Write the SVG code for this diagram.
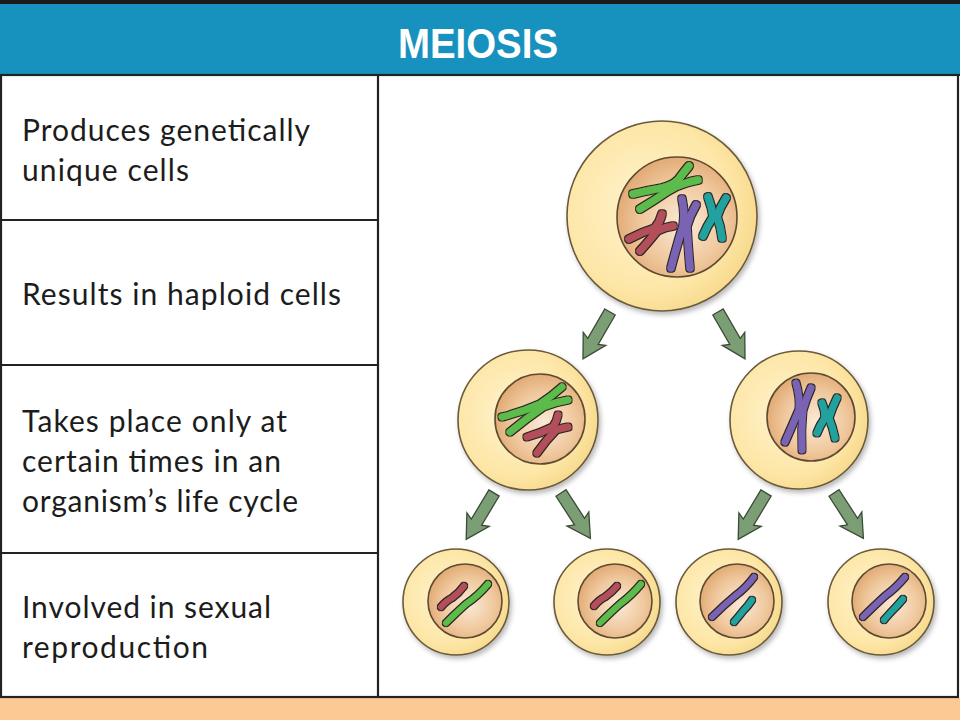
<svg xmlns="http://www.w3.org/2000/svg" width="960" height="720" viewBox="0 0 960 720">
<defs>
<radialGradient id="cyto" cx="0.42" cy="0.45" r="0.6">
<stop offset="0" stop-color="#fff4cf"/>
<stop offset="0.75" stop-color="#fde6a6"/>
<stop offset="1" stop-color="#f7d98c"/>
</radialGradient>
<radialGradient id="nuc" cx="0.55" cy="0.55" r="0.6">
<stop offset="0" stop-color="#fbead6"/>
<stop offset="0.6" stop-color="#efc79c"/>
<stop offset="1" stop-color="#dfa56d"/>
</radialGradient>
<filter id="shadow" x="-20%" y="-20%" width="140%" height="140%">
<feDropShadow dx="2" dy="3" stdDeviation="2.5" flood-color="#000" flood-opacity="0.28"/>
</filter>
<filter id="outline" x="-20%" y="-20%" width="140%" height="140%">
<feMorphology in="SourceAlpha" operator="dilate" radius="1.3" result="d"/>
<feFlood flood-color="#2b2622"/>
<feComposite in2="d" operator="in" result="o"/>
<feMerge><feMergeNode in="o"/><feMergeNode in="SourceGraphic"/></feMerge>
</filter>
<polygon id="arrow" points="-6,0 6,0 6,34 13,31 0,54 -13,31 -6,34"/>
</defs>
<style>
.cell{fill:url(#cyto);stroke:#6a5a3c;stroke-width:1.6}
.nucleus{fill:url(#nuc);stroke:#5e4a32;stroke-width:1.6}
.chr{fill:none;stroke-linecap:round;stroke-linejoin:round}
.g{stroke:#5dbb4c}.r{stroke:#b24f5a}.p{stroke:#7a63b2}.t{stroke:#23a29e}
.arrow{fill:#7c9e74;stroke:#3c4a38;stroke-width:1.3}
.lbl{font-family:Lato,"Open Sans","Liberation Sans",sans-serif;font-size:30px;fill:#1c1c1c}
.grid{stroke:#222;stroke-width:2.2;fill:none}
</style>

<rect x="0" y="0" width="960" height="720" fill="#ffffff"/>
<rect x="0" y="0" width="960" height="4" fill="#1b1b1b"/>
<g id="header">
<rect x="0" y="4" width="960" height="71" fill="#1791bd"/>
<text x="478" y="58" text-anchor="middle" font-family="'Liberation Sans',Arial,sans-serif" font-weight="bold" font-size="42" fill="#ffffff" textLength="160" lengthAdjust="spacingAndGlyphs">MEIOSIS</text>
</g>
<rect x="0" y="698" width="960" height="22" fill="#fcc995"/>

<g id="table">
<line class="grid" x1="0" y1="75" x2="960" y2="75"/>
<rect class="grid" x="1" y="75" width="957" height="622"/>
<line class="grid" x1="378" y1="75" x2="378" y2="697"/>
<line class="grid" x1="1" y1="220" x2="378" y2="220"/>
<line class="grid" x1="1" y1="365" x2="378" y2="365"/>
<line class="grid" x1="1" y1="553" x2="378" y2="553"/>
</g>

<g id="row1"><text class="lbl" x="22" y="141" textLength="288">Produces genetically</text><text class="lbl" x="22" y="181" textLength="167">unique cells</text></g>
<g id="row2"><text class="lbl" x="22" y="305" textLength="319">Results in haploid cells</text></g>
<g id="row3"><text class="lbl" x="22" y="432" textLength="265">Takes place only at</text><text class="lbl" x="22" y="472" textLength="259">certain times in an</text><text class="lbl" x="22" y="512" textLength="276">organism’s life cycle</text></g>
<g id="row4"><text class="lbl" x="22" y="618" textLength="249">Involved in sexual</text><text class="lbl" x="22" y="658" textLength="186">reproduction</text></g>

<g id="connectors">
<use href="#arrow" class="arrow" transform="translate(610,312) rotate(30)"/>
<use href="#arrow" class="arrow" transform="translate(718,312) rotate(-30)"/>
<use href="#arrow" class="arrow" transform="translate(494,493) rotate(31)"/>
<use href="#arrow" class="arrow" transform="translate(561,493) rotate(-33)"/>
<use href="#arrow" class="arrow" transform="translate(766,493) rotate(31)"/>
<use href="#arrow" class="arrow" transform="translate(834,493) rotate(-33)"/>
</g>

<g id="cell-parent">
<circle class="cell" cx="662" cy="216" r="95" filter="url(#shadow)"/>
<circle class="nucleus" cx="677" cy="217" r="60"/>
<g filter="url(#outline)" class="chr" stroke-width="7.5">
<path class="g" d="M633,194 Q650,190 662,188 Q672,186 678,180 Q684,172 689,166"/>
<path class="g" d="M640,209 Q655,200 668,191 Q676,186 686,183 Q692,181 698,180"/>
<path class="r" d="M629,239 Q642,232 655,228 Q660,222 662,214"/>
<path class="r" d="M640,251 Q650,240 657,231 Q665,227 673,226"/>
<path class="p" d="M682,199 Q685,212 683,226 Q677,245 671,268"/>
<path class="p" d="M696,205 Q690,215 687,226 Q688,246 690,268"/>
<path class="t" d="M708,197 Q712,207 713,217 Q707,226 703,236"/>
<path class="t" d="M726,198 Q720,207 717,217 Q721,227 722,238"/>
</g>
</g>

<g id="cell-mid-left">
<circle class="cell" cx="528" cy="420" r="70" filter="url(#shadow)"/>
<circle class="nucleus" cx="540" cy="419" r="45"/>
<g filter="url(#outline)" class="chr" stroke-width="7">
<path class="g" d="M502,417 Q522,412 540,404 Q552,396 562,387"/>
<path class="g" d="M510,432 Q527,418 543,407 Q555,402 568,400"/>
<path class="r" d="M527,437 Q541,433 553,427 Q557,421 558,415"/>
<path class="r" d="M537,453 Q546,440 556,430 Q562,428 568,427"/>
</g>
</g>

<g id="cell-mid-right">
<circle class="cell" cx="799" cy="420" r="69" filter="url(#shadow)"/>
<circle class="nucleus" cx="811" cy="417" r="44"/>
<g filter="url(#outline)" class="chr" stroke-width="7">
<path class="p" d="M796,383 Q800,396 799,410 Q792,426 785,442"/>
<path class="p" d="M811,388 Q806,399 803,410 Q801,430 802,450"/>
<path class="t" d="M822,403 Q825,410 825,418 Q820,425 817,433"/>
<path class="t" d="M837,398 Q832,408 829,418 Q833,428 835,438"/>
</g>
</g>

<g id="cell-bottom-1">
<circle class="cell" cx="456" cy="602" r="53" filter="url(#shadow)"/>
<circle class="nucleus" cx="465" cy="601" r="37"/>
<g filter="url(#outline)" class="chr" stroke-width="6">
<path class="r" d="M441,607 Q447,600 452,598 Q459,593 464,586"/>
<path class="g" d="M446,623 Q457,612 466,604 Q478,596 488,584"/>
</g>
</g>

<g id="cell-bottom-2">
<circle class="cell" cx="607" cy="602" r="53" filter="url(#shadow)"/>
<circle class="nucleus" cx="615" cy="601" r="37"/>
<g filter="url(#outline)" class="chr" stroke-width="6">
<path class="r" d="M594,606 Q600,599 605,597 Q612,592 617,586"/>
<path class="g" d="M600,623 Q611,612 620,604 Q632,595 641,584"/>
</g>
</g>

<g id="cell-bottom-3">
<circle class="cell" cx="729" cy="602" r="53" filter="url(#shadow)"/>
<circle class="nucleus" cx="737" cy="601" r="37"/>
<g filter="url(#outline)" class="chr" stroke-width="6">
<path class="p" d="M712,617 Q724,605 735,596 Q746,588 754,577"/>
<path class="t" d="M734,622 Q740,615 743,611 Q748,606 752,600"/>
</g>
</g>

<g id="cell-bottom-4">
<circle class="cell" cx="881" cy="602" r="53" filter="url(#shadow)"/>
<circle class="nucleus" cx="889" cy="601" r="37"/>
<g filter="url(#outline)" class="chr" stroke-width="6">
<path class="p" d="M863,617 Q875,605 885,596 Q896,588 905,577"/>
<path class="t" d="M884,620 Q890,613 893,610 Q898,605 903,599"/>
</g>
</g>
</svg>
